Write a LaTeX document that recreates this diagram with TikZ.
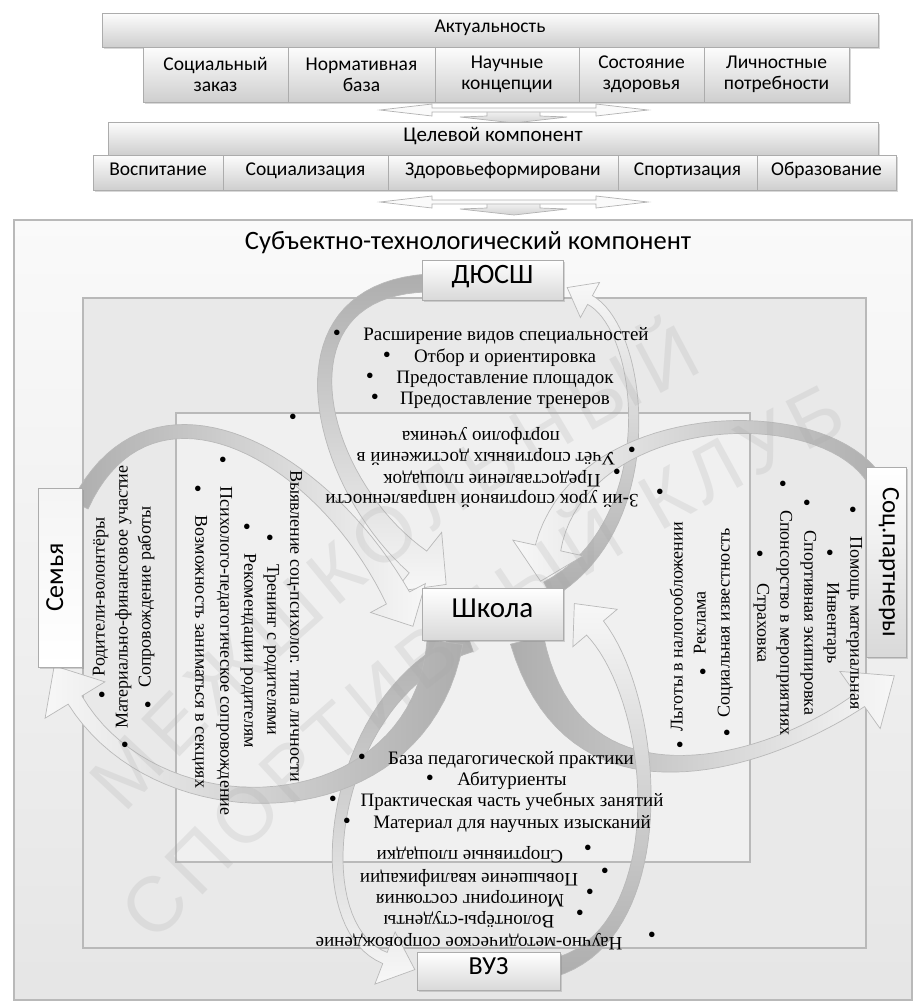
\documentclass[tikz,border=0pt]{standalone}
\usepackage{fontspec}
\setmainfont{Liberation Serif}
\newfontfamily\calfont{Carlito}
\newfontfamily\wmfont{Liberation Sans}
\usetikzlibrary{shadows,decorations.text}

% tapered curved arrow along a cubic Bezier: \barrow{style}(P0)(C1)(C2)(P3)[w0,wm,w1,headwidth,headlength]
\def\barrow#1(#2,#3)(#4,#5)(#6,#7)(#8,#9){%
  \tikzset{curarrow/.style={#1}}%
  \def\qAx{#2}\def\qAy{#3}\def\qBx{#4}\def\qBy{#5}\def\qCx{#6}\def\qCy{#7}\def\qDx{#8}\def\qDy{#9}\barrowC}
\def\barrowC[#1,#2,#3,#4,#5]{%
 \begin{scope}[declare function={
   bzx(\t)=(1-\t)^3*\qAx+3*(1-\t)^2*\t*\qBx+3*(1-\t)*\t^2*\qCx+\t^3*\qDx;
   bzy(\t)=(1-\t)^3*\qAy+3*(1-\t)^2*\t*\qBy+3*(1-\t)*\t^2*\qCy+\t^3*\qDy;
   bdx(\t)=3*(1-\t)^2*(\qBx-\qAx)+6*(1-\t)*\t*(\qCx-\qBx)+3*\t^2*(\qDx-\qCx);
   bdy(\t)=3*(1-\t)^2*(\qBy-\qAy)+6*(1-\t)*\t*(\qCy-\qBy)+3*\t^2*(\qDy-\qCy);
   bnl(\t)=100*sqrt((bdx(\t)/100)^2+(bdy(\t)/100)^2);
   bnx(\t)=-bdy(\t)/bnl(\t);
   bny(\t)=bdx(\t)/bnl(\t);
   bwd(\t)=(1-\t)^2*#1+2*\t*(1-\t)*#2+\t^2*#3;}]
 \path[curarrow] plot[domain=0:1,samples=40,variable=\t] ({bzx(\t)+bwd(\t)/2*bnx(\t)},{bzy(\t)+bwd(\t)/2*bny(\t)})
   -- ({\qDx+#4/2*bnx(1)},{\qDy+#4/2*bny(1)})
   -- ({\qDx+#5*(bdx(1)/bnl(1))},{\qDy+#5*(bdy(1)/bnl(1))})
   -- ({\qDx-#4/2*bnx(1)},{\qDy-#4/2*bny(1)})
   -- plot[domain=0:1,samples=40,variable=\t] ({bzx(1-\t)-bwd(1-\t)/2*bnx(1-\t)},{bzy(1-\t)-bwd(1-\t)/2*bny(1-\t)})
   -- cycle;
 \end{scope}}

% double arrow with a down arrow below, centred at y=#1
\newcommand\dblarrow[1]{%
  \draw[dbltri] (487,#1) -- (540,#1) -- (540,#1+6) -- (567,#1+7) -- (514,#1+13) -- (460,#1+7) -- (487,#1+6) -- cycle;
  \draw[dbl] (380,#1) -- (432,#1-6) -- (432,#1-2) -- (596,#1-2) -- (596,#1-6) -- (648,#1)
     -- (596,#1+6) -- (596,#1+2) -- (432,#1+2) -- (432,#1+6) -- cycle;}

\begin{document}
\begin{tikzpicture}[x=1pt,y=-1pt,
  tx/.style={inner sep=0pt, font=\fontsize{19}{21}\selectfont, text height=0.62em, text depth=0.1em},
  rx/.style={inner sep=0pt, font=\fontsize{18}{20}\selectfont, text height=0.62em, text depth=0.1em},
  bl/.style={inner sep=0pt, font=\fontsize{23}{25}\selectfont, text height=0.45em, text depth=0em},
  hd/.style={draw=gray!65, line width=0.8pt, top color=gray!2, bottom color=gray!38,
     inner sep=0pt, align=center, font=\calfont\fontsize{19.5}{21}\selectfont,
     drop shadow={opacity=0.3, shadow xshift=1.5pt, shadow yshift=-1.5pt}},
  one/.style={text height=0.7em, text depth=0.2em},
  pbox/.style={draw=gray!65, line width=0.8pt, top color=white, bottom color=gray!30,
     inner sep=0pt, font=\calfont\fontsize{28}{30}\selectfont, text height=0.64em, text depth=0em,
     drop shadow={opacity=0.3, shadow xshift=1.5pt, shadow yshift=-1.5pt}},
  dbl/.style={draw=gray!60, line width=0.7pt, fill=gray!4},
  dbltri/.style={draw=gray!60, line width=0.7pt, top color=gray!8, bottom color=gray!35},
  cyc/.style={draw=gray!55, line width=0.7pt, top color=gray!64, bottom color=gray!6}]
\useasboundingbox (0,0) rectangle (922,1005);
\fill[white] (0,0) rectangle (922,1005);

% ---------- top part ----------
\node[hd, one, minimum width=776pt, minimum height=34pt, font=\calfont\fontsize{19.5}{21}\selectfont] (akt) at (490,30) {Актуальность};
\node[hd, minimum width=145pt, minimum height=55pt] (c1) at (215.5,74.5) {Социальный\\заказ};
\node[hd, minimum width=147pt, minimum height=55pt] (c2) at (361.5,74.5) {Нормативная\\база};
\node[hd, minimum width=144pt, minimum height=55pt] (c3) at (507,74.5) {Научные\\концепции};
\node[hd, minimum width=125pt, minimum height=55pt] (c4) at (641.5,74.5) {Состояние\\здоровья};
\node[hd, minimum width=145pt, minimum height=55pt] (c5) at (776.5,74.5) {Личностные\\потребности};

\dblarrow{110}

\node[hd, one, minimum width=770pt, minimum height=33pt, font=\calfont\fontsize{21}{23}\selectfont] (cel) at (493,138.5) {Целевой компонент};
\node[hd, one, minimum width=130pt, minimum height=35pt] (r1) at (158,172.5) {Воспитание};
\node[hd, one, minimum width=165pt, minimum height=35pt] (r2) at (305.5,172.5) {Социализация};
\node[hd, one, minimum width=230pt, minimum height=35pt] (r3) at (503,172.5) {Здоровьеформировани};
\node[hd, one, minimum width=139pt, minimum height=35pt] (r4) at (687.5,172.5) {Спортизация};
\node[hd, one, minimum width=139pt, minimum height=35pt] (r5) at (826.5,172.5) {Образование};

\dblarrow{202}

% ---------- frames ----------
\draw[draw=gray!55, line width=1.5pt, top color=gray!4, bottom color=gray!20] (14,220) rectangle (912,1000);
\node[inner sep=0pt, font=\calfont\fontsize{26.5}{28}\selectfont] (subj) at (468,243) {Субъектно-технологический компонент};
\draw[draw=gray!55, line width=2pt, fill=gray!17] (83,298) rectangle (866,948);
\draw[draw=gray!55, line width=2.5pt, fill=gray!12] (176,413) rectangle (750,862);

% ---------- cycle arrows ----------
% DYuSSh <-> school
\barrow{cyc, shading angle=0}(428,283)(270,290)(315,480)(418,562)[18,6,28,76,36]
\barrow{cyc, shading angle=180}(548,590)(665,525)(645,330)(590,300)[18,7,10,40,26]
% partners <-> school
\barrow{cyc, shading angle=-90}(878,485)(830,395)(580,405)(548,548)[16,6,26,72,34]
\barrow{cyc, shading angle=90}(527,640)(575,830)(775,760)(860,700)[34,8,16,70,42]
% VUZ <-> school
\barrow{cyc, shading angle=180}(553,968)(675,935)(660,705)(595,628)[18,6,22,58,32]
\barrow{cyc, shading angle=0}(470,642)(330,690)(300,925)(385,958)[20,7,12,56,32]
% family <-> school
\barrow{cyc, shading angle=90}(80,505)(150,360)(320,450)(398,598)[18,7,26,62,32]
\barrow{cyc, shading angle=-90}(445,642)(420,830)(160,840)(75,700)[36,8,16,70,40]

% ---------- watermark ----------
\coordinate (wa) at (125,815);
\coordinate (wb) at (705,370);
\coordinate (wc) at (155,945);
\coordinate (wd) at (850,430);
\begin{scope}[opacity=0.2]
\path[decorate, decoration={text along path, text color=gray!70,
   text={|\wmfont\fontsize{78}{78}\selectfont|МЕЖШКОЛЬНЫЙ}, text align={fit to path}}]
   (wa) to[bend left=10] (wb);
\path[decorate, decoration={text along path, text color=gray!70,
   text={|\wmfont\fontsize{78}{78}\selectfont|СПОРТИВНЫЙ КЛУБ}, text align={fit to path}}]
   (wc) to[bend left=10] (wd);
\end{scope}

% ---------- DYuSSh texts ----------
\node[tx] (j1) at (506,338) {Расширение видов специальностей};
\node[bl] (j1b) at (337,338) {•};
\node[tx] (j2) at (505,360) {Отбор и ориентировка};
\node[bl] (j2b) at (387,360) {•};
\node[tx] (j3) at (505,381) {Предоставление площадок};
\node[bl] (j3b) at (370,381) {•};
\node[tx] (j4) at (505,402) {Предоставление тренеров};
\node[bl] (j4b) at (375,402) {•};

% upside-down school texts (top)
\node[tx, rotate=180] (u1) at (481,434) {портфолио ученика};
\node[tx, rotate=180] (u2) at (486,455) {Учёт спортивных достижений в};
\node[bl] (u2b) at (632,455) {•};
\node[tx, rotate=180] (u3) at (492,477) {Предоставление площадок};
\node[bl] (u3b) at (617,477) {•};
\node[tx, rotate=180] (u4) at (482,497) {3-ий урок спортивной направленности};
\node[bl] (u4b) at (660,497) {•};

% left inner (school - family)
\node[rx, rotate=-90] (s1) at (293,626) {Выявление соц-психолог. типа личности};
\node[bl] (s1b) at (293,422) {•};
\node[rx, rotate=-90] (s2) at (270,650) {Тренинг с родителями};
\node[bl] (s2b) at (270,543) {•};
\node[rx, rotate=-90] (s3) at (247,651) {Рекомендации родителям};
\node[bl] (s3b) at (247,532) {•};
\node[rx, rotate=-90] (s4) at (223,651) {Психолого-педагогическое сопровождение};
\node[bl] (s4b) at (223,465) {•};
\node[rx, rotate=-90] (s5) at (198,652) {Возможность заниматься в секциях};
\node[bl] (s5b) at (198,494) {•};

% left outer (family)
\node[rx, rotate=90] (f1) at (102,597) {Родители-волонтёры};
\node[bl] (f1b) at (102,700) {•};
\node[rx, rotate=90] (f2) at (125,597) {Материально-финансовое участие};
\node[bl] (f2b) at (125,750) {•};
\node[rx, rotate=90] (f3) at (148,597) {Сопровождение работы};
\node[bl] (f3b) at (148,710) {•};

% right inner (school - partners)
\node[rx, rotate=90] (p1) at (680,627) {Льготы в налогообложении};
\node[bl] (p1b) at (680,750) {•};
\node[rx, rotate=90] (p2) at (703,623) {Реклама};
\node[bl] (p2b) at (703,677) {•};
\node[rx, rotate=90] (p3) at (727,623) {Социальная известность};
\node[bl] (p3b) at (727,738) {•};

% right outer (partners)
\node[rx, rotate=-90] (q1) at (853,623) {Помощь материальная};
\node[bl] (q1b) at (853,515) {•};
\node[rx, rotate=-90] (q2) at (830,623) {Инвентарь};
\node[bl] (q2b) at (830,558) {•};
\node[rx, rotate=-90] (q3) at (807,623) {Спортивная экипировка};
\node[bl] (q3b) at (807,508) {•};
\node[rx, rotate=-90] (q4) at (783,623) {Спонсорство в мероприятиях};
\node[bl] (q4b) at (783,489) {•};
\node[rx, rotate=-90] (q5) at (760,623) {Страховка};
\node[bl] (q5b) at (760,559) {•};

% bottom upright (school - VUZ)
\node[tx] (v1) at (511,762) {База педагогической практики};
\node[bl] (v1b) at (362,762) {•};
\node[tx] (v2) at (512,783) {Абитуриенты};
\node[bl] (v2b) at (430,783) {•};
\node[tx] (v3) at (512,804) {Практическая часть учебных занятий};
\node[bl] (v3b) at (333,804) {•};
\node[tx] (v4) at (512,826) {Материал для научных изысканий};
\node[bl] (v4b) at (347,826) {•};
% bottom upside-down (VUZ)
\node[tx, rotate=180] (w1) at (470,853) {Спортивные площадки};
\node[bl] (w1b) at (588,853) {•};
\node[tx, rotate=180] (w2) at (469,876) {Повышение квалификации};
\node[bl] (w2b) at (605,876) {•};
\node[tx, rotate=180] (w3) at (470,897) {Мониторинг состояния};
\node[bl] (w3b) at (590,897) {•};
\node[tx, rotate=180] (w4) at (469,918) {Волонтёры-студенты};
\node[bl] (w4b) at (580,918) {•};
\node[tx, rotate=180] (w5) at (469,940) {Научно-методическое сопровождение};
\node[bl] (w5b) at (652,940) {•};

% ---------- partner boxes ----------
\node[pbox, minimum width=141pt, minimum height=40pt] (dyussh) at (492.5,280) {ДЮСШ};
\node[pbox, minimum width=141pt, minimum height=52pt, font=\calfont\fontsize{29}{31}\selectfont] (school) at (492.5,614) {Школа};
\node[pbox, minimum width=143pt, minimum height=38pt, font=\calfont\fontsize{26}{28}\selectfont] (vuz) at (488.5,971) {ВУЗ};
\node[pbox, rotate=90, minimum width=179pt, minimum height=44pt, top color=gray!8, bottom color=white, font=\calfont\fontsize{26}{28}\selectfont] (family) at (60,577.5) {Семья};
\node[pbox, rotate=-90, minimum width=190pt, minimum height=40pt, font=\calfont\fontsize{25}{27}\selectfont] (partners) at (886,562) {Соц.партнеры};
\end{tikzpicture}
\end{document}
